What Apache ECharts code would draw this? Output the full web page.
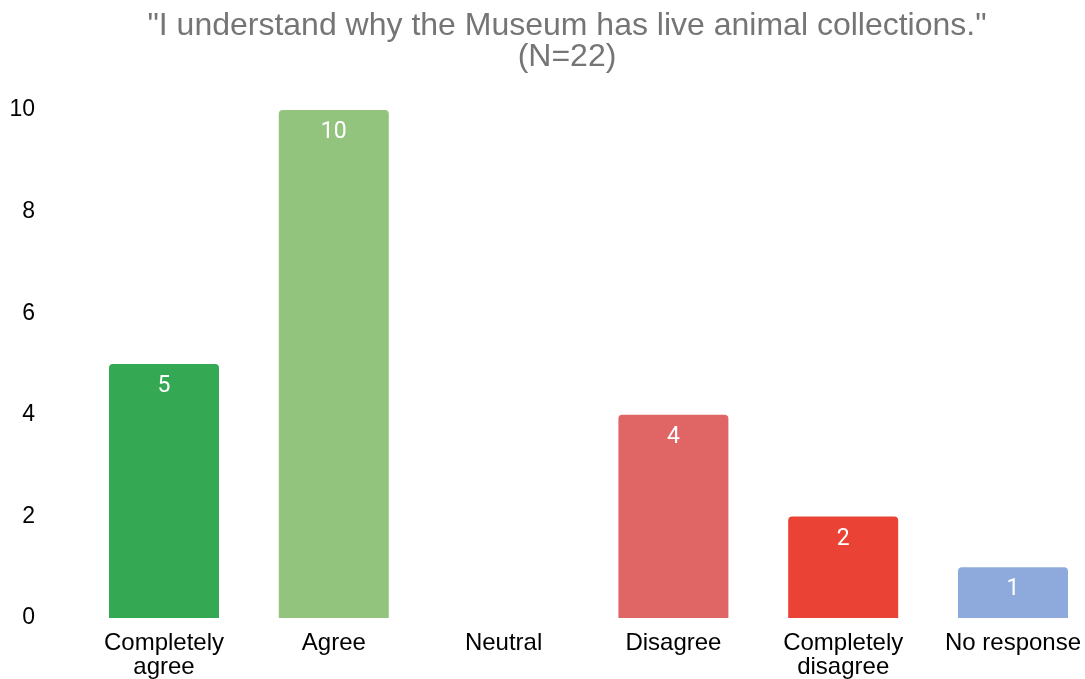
<!DOCTYPE html>
<html>
<head>
<meta charset="utf-8">
<script src="https://cdn.jsdelivr.net/npm/echarts@6/dist/echarts.min.js"></script>
<style>
  html, body { margin: 0; padding: 0; background: #fff; }
  #chart { width: 1085px; height: 679px; }
</style>
</head>
<body>
<div id="chart"></div>
<script>
// Survey responses: "I understand why the Museum has live animal collections."
const categories = ['Completely\nagree', 'Agree', 'Neutral', 'Disagree', 'Completely\ndisagree', 'No response'];
const counts = [5, 10, 0, 4, 2, 1];
const barColors = ['#34a853', '#93c47d', '#b7b7b7', '#e06666', '#ea4335', '#8eaadc'];
const yTicks = { min: 0, max: 10, interval: 2 };

const chart = echarts.init(document.getElementById('chart'), null, { renderer: 'canvas' });

chart.setOption({
  backgroundColor: '#ffffff',
  animation: false,
  title: {
    text: '"I understand why the Museum has live animal collections."\n(N=22)',
    left: 562,
    top: 6,
    textAlign: 'center',
    textStyle: {
      fontFamily: 'Liberation Sans, Arial, sans-serif',
      fontSize: 32,
      fontWeight: 'normal',
      color: '#757575',
      lineHeight: 31
    }
  },
  // grid spans from the first category centre to the last one (boundaryGap off)
  grid: {
    left: 164,
    top: 110,
    right: 72,
    height: 508,
    containLabel: false
  },
  xAxis: {
    type: 'category',
    data: categories,
    boundaryGap: false,
    axisLine: { show: false },
    axisTick: { show: false },
    axisLabel: {
      interval: 0,
      margin: 13,
      color: '#000000',
      fontFamily: 'Liberation Sans, Arial, sans-serif',
      fontSize: 24,
      lineHeight: 24
    }
  },
  yAxis: {
    type: 'value',
    min: yTicks.min,
    max: yTicks.max,
    interval: yTicks.interval,
    splitLine: { show: false },
    axisLine: { show: false },
    axisTick: { show: false },
    axisLabel: {
      margin: 129,
      color: '#000000',
      fontFamily: 'Liberation Sans, Arial, sans-serif',
      fontSize: 23
    }
  },
  series: [{
    type: 'bar',
    clip: false,
    data: counts.map((v, i) => ({ value: v, itemStyle: { color: barColors[i] } })),
    barWidth: 110,
    itemStyle: { borderRadius: [4, 4, 0, 0] },
    label: {
      show: true,
      position: 'insideTop',
      distance: 11,
      color: '#ffffff',
      fontFamily: 'Roboto, sans-serif',
      fontWeight: 'normal',
      fontSize: 23,
      formatter: p => (p.value ? String(p.value) : '')
    }
  }]
});
</script>
</body>
</html>
